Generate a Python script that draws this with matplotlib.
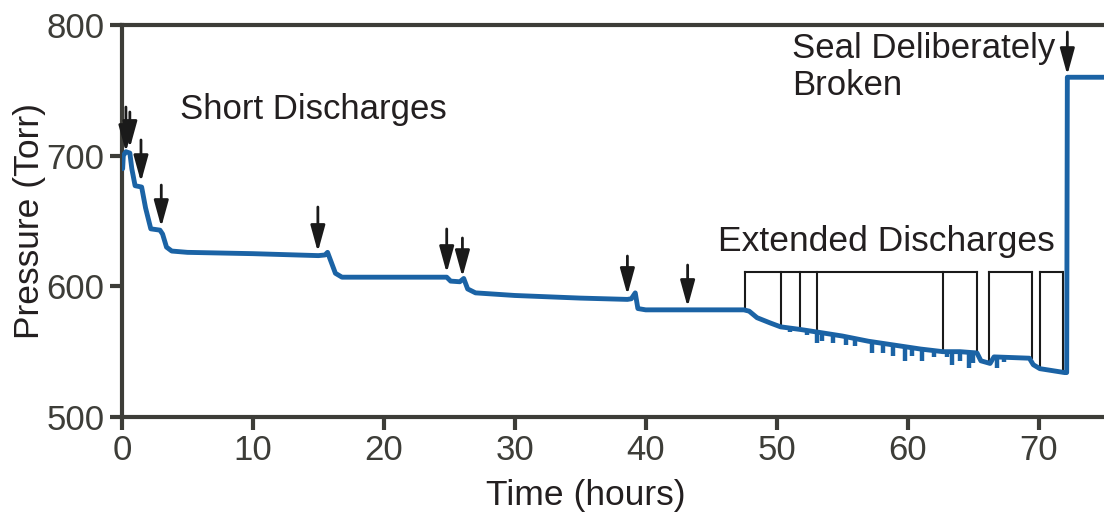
import matplotlib.pyplot as plt

plt.rcParams['font.family'] = ['Liberation Sans', 'DejaVu Sans']

# pressure trace (hours, Torr)
t_trace = [0.05, 0.1, 0.3, 0.6, 0.75, 1.0, 1.5, 1.8, 2.2, 2.9, 3.1, 3.4, 3.8, 5, 10, 15,
           15.5, 15.7, 16.0, 16.3, 16.8, 20, 24.8, 25.1, 25.8, 26.1, 26.4, 27, 30, 35,
           38.6, 38.9, 39.2, 39.4, 40, 43, 47.5, 47.9, 48.5, 49.5, 50.3, 51.8, 53.1,
           55, 57, 59, 61, 62.7, 64, 65.3, 65.6, 66.3, 66.6, 69.3, 69.6, 70.1, 72.0,
           72.15, 72.2, 75]
p_trace = [690, 700, 703, 702, 690, 677, 676, 660, 644, 643, 640, 630, 627, 626, 625, 623.5,
           624, 626, 618, 610, 607, 607, 607, 604, 603.5, 606, 598, 595, 593, 591,
           590, 590.5, 595, 583, 582, 582, 582, 581, 576, 572, 569, 567, 565,
           562, 558, 555, 552, 550, 550, 549, 543, 541, 546, 545, 540, 537, 534,
           534, 760, 760]

# downward noise spikes during extended discharges
spike_t = [51.0, 52.3, 53.1, 53.5, 54.3, 55.3, 56.0, 57.3, 58.1, 58.9, 59.8, 60.3,
           61.1, 62.0, 63.0, 63.4, 64.0, 64.7, 65.0, 66.8, 67.4]
spike_top = [568, 567, 565, 564, 563, 561, 560, 558, 557, 556, 554, 553,
             552, 551, 551, 551, 550, 550, 549, 546, 546]
spike_bot = [565, 563, 556.6, 558, 556.6, 555, 554, 549, 549, 546.7, 543, 547,
             543, 546, 546, 540, 543, 537.5, 541, 537.5, 542]

# arrows marking discharges: (time, tail, tip)
arrow_t = [0.3, 0.6, 1.45, 3.0, 14.96, 24.8, 26.0, 38.6, 43.2, 72.2]
arrow_tail = [737.2, 733.4, 712, 677.5, 660.7, 643.9, 637, 623.2, 616.3, 794.6]
arrow_tip = [702.8, 705.9, 679.8, 645.4, 626.3, 610.2, 607.1, 593.4, 584.2, 761.7]

# extended discharge brackets
bracket_top = 611
bracket_groups = [
    ([47.6, 50.3, 51.8, 53.1, 62.7, 65.3], [582, 569, 567, 565, 550, 549]),
    ([66.2, 69.5], [541, 545]),
    ([70.1, 71.9], [538, 534]),
]

blue = '#1b63a5'
axcol = '#3d3d38'
txtcol = '#231f20'

fig = plt.figure(figsize=(11.04, 5.14), dpi=100)
ax = fig.add_axes([0.1105, 0.1887, 0.8895, 0.7627])

ax.plot(t_trace, p_trace, color=blue, lw=3.5, solid_joinstyle='round', solid_capstyle='round', zorder=3)
ax.vlines(spike_t, spike_bot, spike_top, color=blue, lw=3.2, zorder=3)

for t, a, b in zip(arrow_t, arrow_tail, arrow_tip):
    ax.annotate('', xy=(t, b), xytext=(t, a),
                arrowprops=dict(arrowstyle='-|>,head_length=0.8,head_width=0.22',
                                mutation_scale=20, color='#1a1a1a', lw=2,
                                shrinkA=0, shrinkB=0), zorder=4)

for ts, ps in bracket_groups:
    ax.plot([ts[0], ts[-1]], [bracket_top, bracket_top], color='#1a1a1a', lw=1.5, zorder=2)
    for t, p in zip(ts, ps):
        ax.plot([t, t], [p, bracket_top], color='#1a1a1a', lw=1.5, zorder=2)

ax.text(4.4, 735, 'Short Discharges', fontsize=25, color=txtcol, va='center')
ax.text(45.5, 634, 'Extended Discharges', fontsize=25.5, color=txtcol, va='center')
ax.text(51.2, 768, 'Seal Deliberately\nBroken', fontsize=25, color=txtcol, va='center',
        linespacing=1.15)

ax.set_xlim(0, 75)
ax.set_ylim(500, 800)
ax.set_xticks([0, 10, 20, 30, 40, 50, 60, 70])
ax.set_yticks([500, 600, 700, 800])
ax.set_xlabel('Time (hours)', fontsize=25.5, color=txtcol)
ax.set_ylabel('Pressure (Torr)', fontsize=25.5, color=txtcol)
ax.xaxis.set_label_coords(0.4725, -0.158)
ax.yaxis.set_label_coords(-0.077, 0.5)
ax.tick_params(labelsize=25, colors=axcol, width=3, length=9, direction='out')
for s in ['left', 'bottom', 'top']:
    ax.spines[s].set_color(axcol)
    ax.spines[s].set_linewidth(3)
ax.spines['right'].set_visible(False)

fig.savefig('out.png', dpi=100)
